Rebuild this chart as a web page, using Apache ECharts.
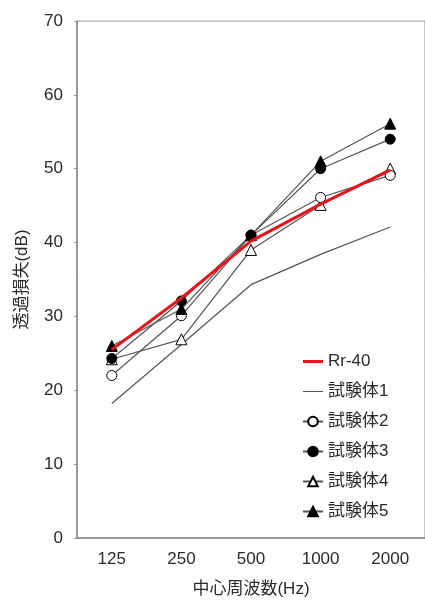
<!DOCTYPE html>
<html><head><meta charset="utf-8">
<script src="https://cdn.jsdelivr.net/npm/echarts@6/dist/echarts.min.js"></script>
<style>html,body{margin:0;padding:0;background:#fff}#c{width:425px;height:603px}</style>
</head><body><div id="c"></div>
<script>
const categories = ['125', '250', '500', '1000', '2000'];
const rr40 = [25.5, 32.5, 40.2, 45.2, 49.8];
const spec1 = [18.2, 26.2, 34.3, 38.4, 42.1];
const spec2 = [22.0, 30.1, 41.0, 46.1, 49.1];
const spec3 = [24.3, 32.1, 41.0, 50.0, 54.0];
const spec4 = [24.2, 26.9, 39.0, 45.1, 50.0];
const spec5 = [26.0, 31.0, 41.0, 51.0, 56.1];
const yTicks = [0, 10, 20, 30, 40, 50, 60, 70];

const font = "'Liberation Sans', 'Noto Sans CJK JP', sans-serif";
const txt = '#2a2a2a';
const chart = echarts.init(document.getElementById('c'));
const lineGray = '#555';
const red = '#e8141c';
function mk(name, data, symbol, fill) {
  return {
    name, type: 'line', data,
    symbol, symbolSize: symbol === 'triangle' ? 11 : 10,
    itemStyle: { color: fill, borderColor: '#000', borderWidth: 1 },
    lineStyle: { color: lineGray, width: 1.2 },
    emphasis: { disabled: true }, animation: false, z: 3
  };
}
chart.setOption({
  animation: false,
  grid: { left: 77, top: 21, width: 350, height: 521, show: true, borderColor: '#999', borderWidth: 1, backgroundColor: 'transparent' },
  legend: {
    orient: 'vertical', left: 297, top: 348, itemGap: 13, itemWidth: 20, itemHeight: 12,
    textStyle: { fontFamily: font, fontSize: 17, color: txt },
    data: [
      { name: 'Rr-40', icon: 'path://M0,0H20V3H0Z' },
      { name: '試験体1', icon: 'path://M0,0H20V1H0Z' },
      '試験体2', '試験体3', '試験体4', '試験体5'
    ]
  },
  xAxis: {
    type: 'category', data: categories, boundaryGap: true,
    name: '中心周波数(Hz)', nameLocation: 'middle', nameGap: 43,
    nameTextStyle: { fontFamily: font, fontSize: 17, color: txt },
    axisLine: { lineStyle: { color: '#888', width: 1.5 } },
    axisTick: { inside: true, length: 3, lineStyle: { color: '#999' } },
    axisLabel: { fontFamily: font, fontSize: 17, color: txt, margin: 13 }
  },
  yAxis: {
    type: 'value', min: 0, max: 70, interval: 10,
    name: '透過損失(dB)', nameLocation: 'middle', nameGap: 46, nameRotate: 90,
    nameTextStyle: { fontFamily: font, fontSize: 17, color: txt },
    axisLine: { show: true, lineStyle: { color: '#888', width: 1.5 } },
    axisTick: { show: true, length: 3, lineStyle: { color: '#999' } },
    splitLine: { show: false },
    axisLabel: { fontFamily: font, fontSize: 17, color: txt, margin: 14,
      formatter: v => yTicks.includes(v) ? String(v) : '' }
  },
  series: [
    { name: '試験体1', type: 'line', data: spec1, symbol: 'none', lineStyle: { color: lineGray, width: 1.2 }, itemStyle: { color: lineGray }, z: 2 },
    mk('試験体4', spec4, 'triangle', '#fff'),
    mk('試験体2', spec2, 'circle', '#fff'),
    { name: 'Rr-40', type: 'line', data: rr40, symbol: 'none', lineStyle: { color: red, width: 3 }, itemStyle: { color: red }, z: 4 },
    mk('試験体5', spec5, 'triangle', '#000'),
    mk('試験体3', spec3, 'circle', '#000')
  ]
});
</script></body></html>
